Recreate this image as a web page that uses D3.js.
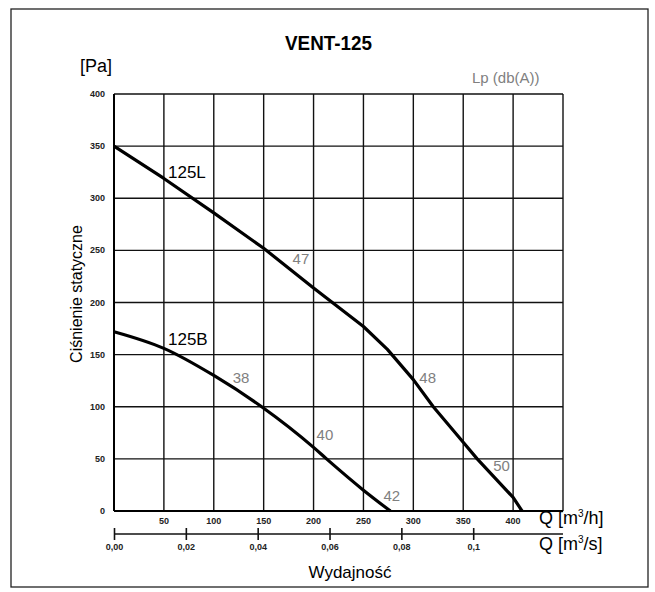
<!DOCTYPE html>
<html>
<head>
<meta charset="utf-8">
<script src="https://cdn.jsdelivr.net/npm/d3@7"></script>
<style>
  body { margin: 0; background: #fff; }
  svg { display: block; font-family: "Liberation Sans", Arial, sans-serif; }
  .grid line { stroke: #111; stroke-width: 1.4; }
  .tick-lbl { font-size: 9px; font-weight: bold; fill: #222; }
  .lp { fill: #808080; font-size: 15px; }
</style>
</head>
<body>
<svg id="chart" width="655" height="592"></svg>
<script>
// curve 125L  [Q m3/h, Pa]
var curve125L = [[0,350],[50,319],[100,286],[150,252],[200,214],[250,177],[274,155],[300,126],[320,100],[350,66],[364,50],[400,13],[409,0]];
// curve 125B
var curve125B = [[0,172],[50,156],[100,130],[148,100],[200,61],[213,50],[250,20],[277,0]];
var yTicks = [0,50,100,150,200,250,300,350,400];
var xTicksH = [50,100,150,200,250,300,350,400];
var xTicksS = [0,0.02,0.04,0.06,0.08,0.1];
var xTicksSLbl = ["0,00","0,02","0,04","0,06","0,08","0,1"];
// Lp labels: [text, Q, Pa]
var lpLabels = [["47",179,237],["48",306,123],["50",380,38],["38",119,123],["40",203,68],["42",270,10]];

var svg = d3.select("#chart");
var x = d3.scaleLinear().domain([0,450]).range([114,563]);
var y = d3.scaleLinear().domain([0,400]).range([511,94]);
var xs = d3.scaleLinear().domain([0,0.125]).range([114,563]);

// outer frame
svg.append("rect").attr("x",11).attr("y",9).attr("width",637).attr("height",578)
    .attr("fill","none").attr("stroke","#222").attr("stroke-width",1.3);

// grid
var grid = svg.append("g").attr("class","grid");
grid.selectAll("line.h").data(yTicks).enter().append("line")
    .attr("x1",x(0)).attr("x2",x(450)).attr("y1",function(d){return y(d);}).attr("y2",function(d){return y(d);});
grid.selectAll("line.v").data(d3.range(0,451,50)).enter().append("line")
    .attr("y1",y(0)).attr("y2",y(400)).attr("x1",function(d){return x(d);}).attr("x2",function(d){return x(d);});
svg.append("line").attr("x1",x(0)).attr("x2",x(450)).attr("y1",y(0)).attr("y2",y(0)).attr("stroke","#000").attr("stroke-width",2);
svg.append("line").attr("x1",x(0)).attr("x2",x(0)).attr("y1",y(0)).attr("y2",y(400)).attr("stroke","#000").attr("stroke-width",2);

// y tick labels
svg.selectAll("text.yt").data(yTicks).enter().append("text").attr("class","tick-lbl")
    .attr("x",105).attr("y",function(d){return y(d)+3;}).attr("text-anchor","end")
    .text(function(d){return d;});

// x tick labels m3/h
svg.selectAll("text.xt").data(xTicksH).enter().append("text").attr("class","tick-lbl")
    .attr("x",function(d){return x(d);}).attr("y",524).attr("text-anchor","middle")
    .text(function(d){return d;});

// second axis m3/s
var ax2 = svg.append("g").attr("transform","translate(0,534)")
    .call(d3.axisBottom(xs).tickValues(xTicksS).tickSize(6).tickFormat(function(d,i){return xTicksSLbl[i];}));
ax2.select(".domain").attr("stroke","#111").attr("stroke-width",1.6).attr("d","M114,0H563");
ax2.selectAll(".tick line").attr("y1",-6).attr("y2",6).attr("stroke","#111").attr("stroke-width",1.6);
ax2.selectAll(".tick text").attr("class","tick-lbl").attr("y",10).attr("font-family",null).attr("font-size",null);

// curves
var lineL = d3.line().x(function(d){return x(d[0]);}).y(function(d){return y(d[1]);});
var lineB = d3.line().x(function(d){return x(d[0]);}).y(function(d){return y(d[1]);}).curve(d3.curveMonotoneX);
svg.append("path").datum(curve125L).attr("d",lineL).attr("fill","none").attr("stroke","#000")
    .attr("stroke-width",3.2).attr("stroke-linejoin","round");
svg.append("path").datum(curve125B).attr("d",lineB).attr("fill","none").attr("stroke","#000")
    .attr("stroke-width",3.2);

// curve names
svg.append("text").attr("x",168).attr("y",178).attr("font-size",17).text("125L");
svg.append("text").attr("x",168).attr("y",345).attr("font-size",17).text("125B");

// Lp labels
svg.selectAll("text.lpv").data(lpLabels).enter().append("text").attr("class","lp")
    .attr("x",function(d){return x(d[1]);}).attr("y",function(d){return y(d[2]);})
    .text(function(d){return d[0];});

// titles
svg.append("text").attr("x",285).attr("y",50)
    .attr("font-weight","bold").attr("font-size",21)
    .attr("textLength",87).attr("lengthAdjust","spacingAndGlyphs").text("VENT-125");
svg.append("text").attr("x",80).attr("y",72).attr("font-size",18).text("[Pa]");
svg.append("text").attr("class","lp").attr("x",472).attr("y",83).attr("font-size",14).text("Lp (db(A))");
svg.append("text").attr("transform","translate(82,294) rotate(-90)").attr("text-anchor","middle")
    .attr("font-size",16).text("Ciśnienie statyczne");
svg.append("text").attr("x",350).attr("y",578).attr("text-anchor","middle").attr("font-size",17).text("Wydajność");

var qh = svg.append("text").attr("x",539).attr("y",524).attr("font-size",18);
qh.append("tspan").text("Q [m");
qh.append("tspan").attr("font-size",10).attr("dy",-7).text("3");
qh.append("tspan").attr("dy",7).text("/h]");
var qs = svg.append("text").attr("x",539).attr("y",550).attr("font-size",18);
qs.append("tspan").text("Q [m");
qs.append("tspan").attr("font-size",10).attr("dy",-7).text("3");
qs.append("tspan").attr("dy",7).text("/s]");
</script>
</body>
</html>
